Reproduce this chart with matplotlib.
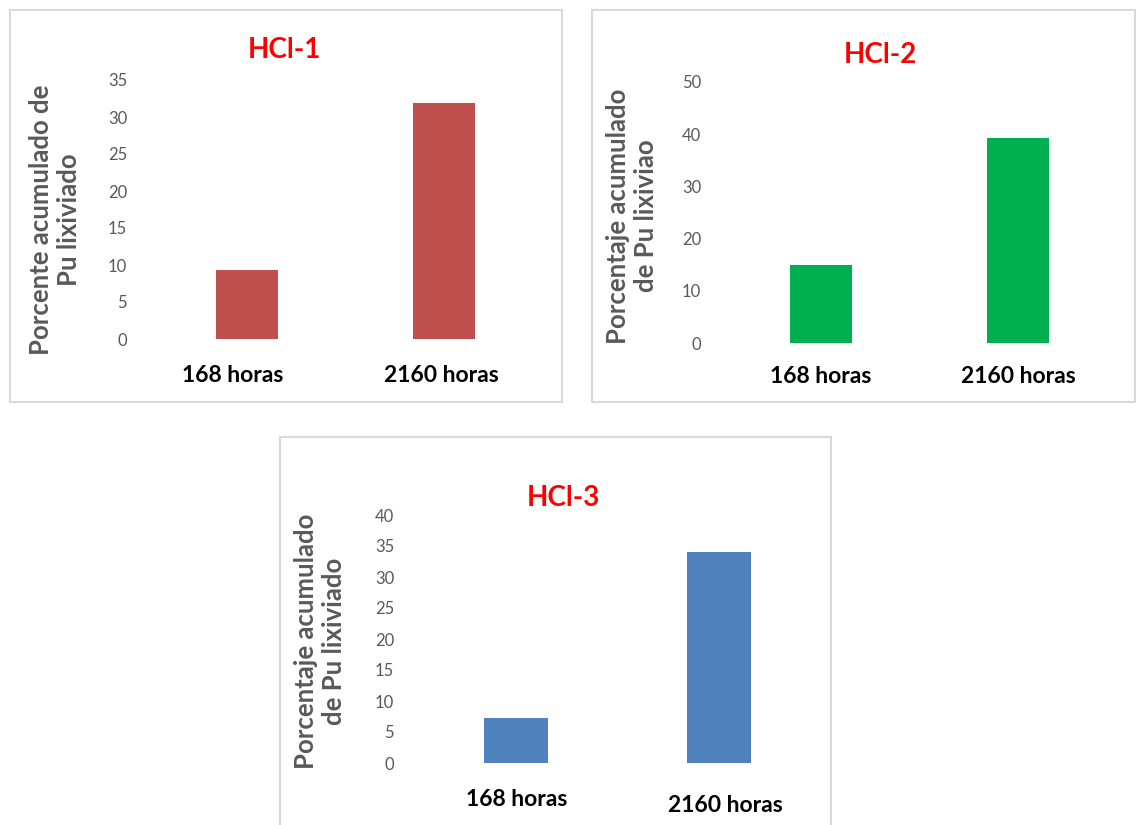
import matplotlib
matplotlib.use("Agg")
import matplotlib.pyplot as plt
import matplotlib.transforms as mtransforms
from matplotlib.patches import Rectangle
import numpy as np

plt.rcParams['font.family'] = ['Lato', 'DejaVu Sans']

# data
categories = ["168 horas", "2160 horas"]
hcl1_values = [9.3, 31.9]
hcl2_values = [14.9, 39.2]
hcl3_values = [7.3, 34.0]

titles = ["HCl-1", "HCl-2", "HCl-3"]
ylabels = ["Porcente acumulado de\nPu lixiviado",
           "Porcentaje acumulado\nde Pu lixiviao",
           "Porcentaje acumulado\nde Pu lixiviado"]
ymax = [35, 50, 40]
ystep = [5, 10, 5]
colors = ["#C0504D", "#00B050", "#4F81BD"]

W, H = 1137, 825
fig = plt.figure(figsize=(W / 100, H / 100), dpi=100)


def box(x0, y0, x1, y1):
    # pixel box (top-left origin) -> figure fraction [left, bottom, w, h]
    return [x0 / W, 1 - y1 / H, (x1 - x0) / W, (y1 - y0) / H]


# layout in pixels: panel frame, axes area, title pos, ylabel pos,
# nudges (px, +down) for the two category labels
panels = [
    dict(frame=(10, 10, 562, 402), axes=(148, 80, 543, 339), title=(284, 50), ylab=(55, 220),
         nudge=[(-14, -2), (-3, -2)]),
    dict(frame=(592, 10, 1135, 402), axes=(722, 82, 1117, 343), title=(880, 55), ylab=(632, 216),
         nudge=[(0, -5), (0, -5)]),
    dict(frame=(280, 437, 831, 840), axes=(415, 515, 820, 763), title=(563, 498), ylab=(320, 641),
         nudge=[(0, -2), (7, 4)]),
]

all_values = [hcl1_values, hcl2_values, hcl3_values]

for i, p in enumerate(panels):
    fx0, fy0, fx1, fy1 = p["frame"]
    fig.add_artist(Rectangle((fx0 / W, 1 - fy1 / H), (fx1 - fx0) / W, (fy1 - fy0) / H,
                             transform=fig.transFigure, fill=False,
                             edgecolor="#D9D9D9", linewidth=1.5))

    ax = fig.add_axes(box(*p["axes"]))
    x = np.arange(len(categories))
    ax.bar(x, all_values[i], width=0.315, color=colors[i])
    ax.set_xlim(-0.5, 1.5)
    ax.set_ylim(0, ymax[i])
    ax.set_yticks(np.arange(0, ymax[i] + 1, ystep[i]))
    ax.set_xticks(x)
    ax.set_xticklabels(categories, fontsize=16.5, fontweight="bold", color="black")
    for s in ax.spines.values():
        s.set_visible(False)
    ax.tick_params(axis="y", length=0, pad=15, labelsize=12, labelcolor="#595959")
    ax.tick_params(axis="x", length=0, pad=20)
    ax.patch.set_alpha(0)

    for lab, (dx, dy) in zip(ax.get_xticklabels(), p["nudge"]):
        off = mtransforms.ScaledTranslation(dx / 100, -dy / 100, fig.dpi_scale_trans)
        lab.set_transform(lab.get_transform() + off)

    tx, ty = p["title"]
    fig.text(tx / W, 1 - ty / H, titles[i], color="#FF0000", fontsize=20,
             fontweight="bold", ha="center", va="center")
    lx, ly = p["ylab"]
    fig.text(lx / W, 1 - ly / H, ylabels[i], color="#595959", fontsize=18.5,
             fontweight="bold", rotation=90, ha="center", va="center",
             multialignment="center", linespacing=1.22)

fig.savefig("out.png", dpi=100, facecolor="white")
